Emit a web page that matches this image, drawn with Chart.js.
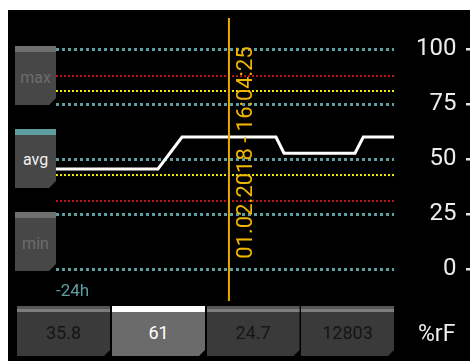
<!DOCTYPE html>
<html>
<head>
<meta charset="utf-8">
<script src="https://cdn.jsdelivr.net/npm/chart.js@4.4.0/dist/chart.umd.min.js"></script>
<style>
  body { margin: 0; background: #fff; font-family: Roboto, sans-serif; }
  #screen { position: absolute; left: 8px; top: 10px; width: 462px; height: 351px; background: #000; }
  #cht { position: absolute; left: 0; top: 0; }
  .side, .btn { position: absolute; box-sizing: border-box; }
  .side { left: 15px; width: 41px; height: 59px; background: #474747;
    clip-path: polygon(0 0, 100% 0, 100% calc(100% - 7px), calc(100% - 7px) 100%, 0 100%); }
  .side .strip { position: absolute; left: 0; top: 0; width: 100%; height: 6px; background: #6f6f6f; }
  .side span { position: absolute; left: 0; width: 100%; text-align: center; font-size: 16px; line-height: 16px; color: #6c6c6c; }
  .btn { top: 306px; width: 93px; height: 50px; background: #3a3a3a;
    clip-path: polygon(0 0, 100% 0, 100% calc(100% - 6px), calc(100% - 6px) 100%, 0 100%); }
  .btn .strip { position: absolute; left: 0; top: 0; width: 100%; height: 6px;
    background: linear-gradient(#575757 0 3px, #7d7d7d 3px 6px); }
  .btn span { position: absolute; left: 0; width: 100%; top: 18px; text-align: center; font-size: 18px; line-height: 18px; color: #151515; }
  .btn.sel { background: #6b6b6b; }
  .btn.sel .strip { background: #fff; }
  .btn.sel span { color: #fff; }
  .txt { position: absolute; line-height: 1; white-space: nowrap; }
</style>
</head>
<body>
<div id="screen"></div>
<canvas id="cht" width="470" height="361"></canvas>

<div class="side" style="top:46px"><div class="strip"></div><span style="top:24px">max</span></div>
<div class="side" style="top:129px"><div class="strip" style="background:#5f9e9e"></div><span style="top:23px;color:#f2f2f2">avg</span></div>
<div class="side" style="top:212px"><div class="strip"></div><span style="top:24px">min</span></div>
<div class="txt" style="left:56px;top:282px;font-size:17px;color:#5f9ea0">-24h</div>
<div id="buttons"></div>
<div class="txt" style="left:418px;top:322px;font-size:23px;color:#f0f0f0">%rF</div>

<script>
// humidity over the last 24 hours
const hours = [-24, -16.76, -15.05, -8.38, -7.81, -2.77, -2.18, 0];
const humidity = [45.5, 45.5, 60, 60, 52.6, 52.6, 60, 60];
const redLevels = [87.7, 30.9];
const yellowLevels = [80.9, 42.7];
const yTicks = [0, 25, 50, 75, 100];
const markerHour = -11.72;
const markerLabel = '01.02.2018 - 16:04:25';
const buttonValues = ['35.8', '61', '24.7', '12803'];
const selectedButton = 1;

const btnLefts = [17, 112, 206.5, 301];
const box = document.getElementById('buttons');
buttonValues.forEach((v, i) => {
  const d = document.createElement('div');
  d.className = 'btn' + (i === selectedButton ? ' sel' : '');
  d.style.left = btnLefts[i] + 'px';
  d.innerHTML = '<div class="strip"></div><span>' + v + '</span>';
  box.appendChild(d);
});

Chart.defaults.font.family = 'Roboto';

function levelLine(v, color, width) {
  return {
    data: [{x: hours[0], y: v}, {x: hours[hours.length - 1], y: v}],
    borderColor: color, borderWidth: width, borderDash: [2, 2],
    pointRadius: 0, fill: false
  };
}

const marker = {
  id: 'marker',
  afterDatasetsDraw(chart) {
    const ctx = chart.ctx;
    const x = chart.scales.x.getPixelForValue(markerHour);
    const a = chart.chartArea;
    ctx.save();
    ctx.strokeStyle = '#e8aa00';
    ctx.lineWidth = 2;
    ctx.beginPath();
    ctx.moveTo(x, 18);
    ctx.lineTo(x, 301);
    ctx.stroke();
    ctx.translate(x + 23, (a.top + a.bottom) / 2 - 6.5);
    ctx.rotate(-Math.PI / 2);
    ctx.font = '22px Roboto';
    ctx.fillStyle = '#f2b600';
    ctx.textAlign = 'center';
    ctx.fillText(markerLabel, 0, 0);
    ctx.restore();
  },
  afterDraw(chart) {
    // little dashes right of the tick labels
    const ctx = chart.ctx, y = chart.scales.y;
    ctx.save();
    ctx.fillStyle = '#e0e0e0';
    y.ticks.forEach(t => {
      const py = y.getPixelForValue(t.value);
      ctx.fillRect(466, py - 1, 8, 2.5);
    });
    ctx.restore();
  }
};

new Chart('cht', {
  type: 'line',
  data: {
    datasets: [
      {
        data: hours.map((h, i) => ({x: h, y: humidity[i]})),
        borderColor: '#ffffff', borderWidth: 3, tension: 0,
        pointRadius: 0, fill: false
      },
      ...redLevels.map(v => levelLine(v, '#ff1a1a', 1.5)),
      ...yellowLevels.map(v => levelLine(v, '#f0f000', 2))
    ]
  },
  options: {
    responsive: false,
    animation: false,
    layout: { padding: { left: 56, top: 49, bottom: 92, right: 13.5 } },
    plugins: { legend: { display: false }, tooltip: { enabled: false } },
    scales: {
      x: { type: 'linear', min: -24, max: 0, display: false },
      y: {
        position: 'right', min: 0, max: 100,
        afterBuildTicks: s => { s.ticks = yTicks.map(v => ({value: v})); },
        afterFit: s => { s.width = 62.5; },
        grid: { color: '#5f9ea0', lineWidth: 3, drawTicks: false },
        border: { display: false, dash: [3, 3] },
        ticks: { color: '#ececec', font: { size: 24 }, padding: 13, crossAlign: 'far' }
      }
    }
  },
  plugins: [marker]
});
</script>
</body>
</html>
